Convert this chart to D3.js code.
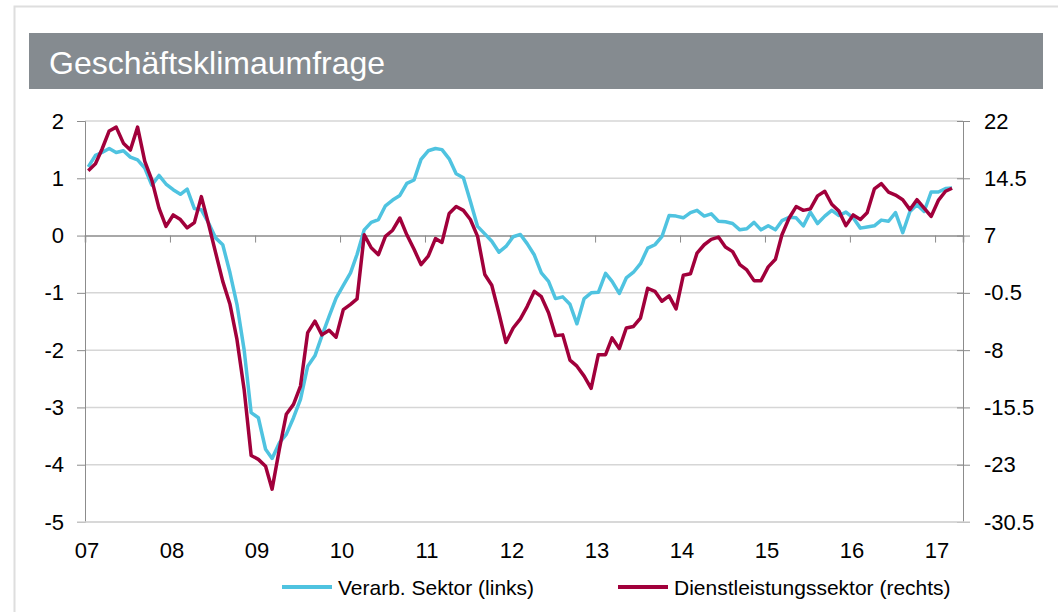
<!DOCTYPE html>
<html>
<head>
<meta charset="utf-8">
<script src="https://cdn.jsdelivr.net/npm/d3@7"></script>
<style>
  body { margin: 0; background: #fff; }
  svg text { font-family: "Liberation Sans", Arial, sans-serif; }
</style>
</head>
<body>
<svg id="chart" width="1058" height="612"></svg>
<script>
// monthly values, Jan 2007 .. Mar 2017
let verarb = [
  1.2, 1.4, 1.45, 1.52, 1.45, 1.48, 1.37, 1.32, 1.18, 0.88, 1.05, 0.9,
  0.8, 0.72, 0.81, 0.47, 0.45, 0.22, -0.04, -0.16, -0.65, -1.2, -2.0, -3.09,
  -3.18, -3.73, -3.89, -3.62, -3.47, -3.18, -2.86, -2.28, -2.1, -1.75, -1.41, -1.09,
  -0.87, -0.65, -0.33, 0.1, 0.23, 0.28, 0.52, 0.62, 0.7, 0.91, 0.97, 1.33,
  1.48, 1.52, 1.5, 1.34, 1.08, 1.01, 0.6, 0.16, 0.03, -0.1, -0.29, -0.19,
  -0.02, 0.02, -0.14, -0.34, -0.65, -0.8, -1.1, -1.07, -1.2, -1.54, -1.1, -1.0,
  -0.99, -0.66, -0.8, -1.01, -0.74, -0.64, -0.49, -0.22, -0.16, -0.02, 0.35, 0.34,
  0.31, 0.4, 0.44, 0.34, 0.38, 0.25, 0.24, 0.21, 0.1, 0.12, 0.23, 0.1,
  0.17, 0.1, 0.26, 0.32, 0.31, 0.17, 0.41, 0.21, 0.34, 0.44, 0.35, 0.41,
  0.31, 0.13, 0.15, 0.17, 0.27, 0.25, 0.4, 0.05, 0.42, 0.54, 0.42, 0.76,
  0.76, 0.82, 0.83
];
let dienst = [
  15.5, 16.4, 18.3, 20.7, 21.2, 19.1, 18.2, 21.2, 16.7, 14.3, 10.6, 8.2,
  9.7, 9.1, 8.0, 8.7, 12.1, 8.5, 4.8, 1.0, -2.0, -6.6, -13.2, -21.8,
  -22.3, -23.2, -26.2, -21.0, -16.4, -15.1, -12.7, -5.7, -4.2, -6.0, -5.4, -6.3,
  -2.7, -2.0, -1.3, 7.1, 5.4, 4.5, 6.9, 7.7, 9.3, 7.1, 5.2, 3.2,
  4.3, 6.6, 6.1, 9.9, 10.8, 10.3, 9.1, 6.9, 1.9, 0.5, -3.2, -7.0,
  -5.1, -3.9, -2.3, -0.3, -1.0, -3.1, -6.1, -6.0, -9.3, -10.1, -11.4, -13.0,
  -8.6, -8.6, -6.4, -7.8, -5.1, -4.9, -3.8, 0.1, -0.3, -1.6, -0.9, -2.6,
  1.8, 2.0, 4.7, 5.8, 6.5, 6.8, 5.5, 4.9, 3.2, 2.5, 1.1, 1.1,
  2.9, 3.9, 7.1, 9.3, 10.8, 10.3, 10.5, 12.2, 12.8, 11.1, 10.2, 8.3,
  9.7, 9.1, 10.0, 13.1, 13.8, 12.7, 12.3, 11.7, 10.4, 11.7, 10.6, 9.5,
  11.6, 12.8, 13.2
];
let yearLabels = ['07', '08', '09', '10', '11', '12', '13', '14', '15', '16', '17'];
let leftTicks = [2, 1, 0, -1, -2, -3, -4, -5];
let rightTicks = [22, 14.5, 7, -0.5, -8, -15.5, -23, -30.5];

let svg = d3.select('#chart');

let plotLeft = 85, plotRight = 963, plotTop = 121, plotBottom = 522;

let x = d3.scaleTime()
  .domain([new Date(2007, 0, 1), new Date(2017, 4, 1)])
  .range([plotLeft, plotRight]);
let yL = d3.scaleLinear().domain([-5, 2]).range([plotBottom, plotTop]);
let yR = d3.scaleLinear().domain([-30.5, 22]).range([plotBottom, plotTop]);

let dateOf = (i) => new Date(2007, i, 15);

// frame + title
svg.append('rect')
  .attr('x', 14.5).attr('y', 6.5)
  .attr('width', 1200).attr('height', 800)
  .attr('fill', 'none').attr('stroke', '#dedede').attr('stroke-width', 2);

svg.append('rect')
  .attr('x', 29).attr('y', 33)
  .attr('width', 1014).attr('height', 56)
  .attr('fill', '#858b90');

svg.append('text')
  .attr('x', 49).attr('y', 74)
  .attr('fill', '#fff')
  .attr('font-size', 32)
  .text('Geschäftsklimaumfrage');

// grid
svg.append('g')
  .selectAll('line')
  .data(leftTicks.filter(d => d !== 0))
  .enter()
  .append('line')
  .attr('x1', plotLeft).attr('x2', plotRight)
  .attr('y1', d => yL(d)).attr('y2', d => yL(d))
  .attr('stroke', '#d6d6d6').attr('stroke-width', 1.5);

// left axis
let axisL = svg.append('g').attr('transform', `translate(${plotLeft},0)`)
  .call(d3.axisLeft(yL).tickValues(leftTicks).tickSize(8).tickFormat(d => d));
axisL.select('.domain').attr('stroke', '#8c8c8c');
axisL.selectAll('.tick line').attr('stroke', '#8c8c8c');
axisL.selectAll('.tick text')
  .attr('x', -21)
  .attr('font-size', 22)
  .attr('fill', '#000')
  .style('font-family', '"Liberation Sans", Arial, sans-serif');

// right axis
let axisR = svg.append('g').attr('transform', `translate(${plotRight},0)`)
  .call(d3.axisRight(yR).tickValues(rightTicks).tickSize(7).tickFormat(d => d));
axisR.select('.domain').attr('stroke', '#8c8c8c');
axisR.selectAll('.tick line').attr('stroke', '#8c8c8c').attr('x1', -6);
axisR.selectAll('.tick text')
  .attr('x', 21)
  .attr('font-size', 22)
  .attr('fill', '#000')
  .style('font-family', '"Liberation Sans", Arial, sans-serif');

// zero line with year ticks
let years = d3.range(2007, 2018).map(y => new Date(y, 0, 1));
let axisX = svg.append('g').attr('transform', `translate(0,${yL(0)})`)
  .call(d3.axisBottom(x).tickValues(years).tickSize(7).tickFormat(''));
axisX.select('.domain').attr('stroke', '#8c8c8c').attr('stroke-width', 1.5);
axisX.selectAll('.tick line').attr('stroke', '#8c8c8c');

svg.append('g')
  .selectAll('text')
  .data(years)
  .enter()
  .append('text')
  .attr('x', d => x(d) + 2)
  .attr('y', 558)
  .attr('text-anchor', 'middle')
  .attr('font-size', 22)
  .text((d, i) => yearLabels[i]);

// bottom line
svg.append('line')
  .attr('x1', plotLeft - 8).attr('x2', plotRight + 7)
  .attr('y1', plotBottom).attr('y2', plotBottom)
  .attr('stroke', '#d6d6d6').attr('stroke-width', 1.5);

// series
let lineL = d3.line().x((d, i) => x(dateOf(i))).y(d => yL(d));
let lineR = d3.line().x((d, i) => x(dateOf(i))).y(d => yR(d));

svg.append('path')
  .attr('d', lineL(verarb))
  .attr('fill', 'none').attr('stroke', '#4fc3e0')
  .attr('stroke-width', 3.5).attr('stroke-linejoin', 'round');

svg.append('path')
  .attr('d', lineR(dienst))
  .attr('fill', 'none').attr('stroke', '#a1003b')
  .attr('stroke-width', 3.5).attr('stroke-linejoin', 'round');

// legend
let legend = [
  { name: 'Verarb. Sektor (links)', color: '#4fc3e0', x: 282 },
  { name: 'Dienstleistungssektor (rechts)', color: '#a1003b', x: 618 }
];
let lg = svg.append('g').selectAll('g').data(legend).enter().append('g')
  .attr('transform', d => `translate(${d.x},587)`);
lg.append('line')
  .attr('x1', 0).attr('x2', 50)
  .attr('stroke', d => d.color).attr('stroke-width', 4);
lg.append('text')
  .attr('x', 56).attr('y', 8)
  .attr('font-size', 21)
  .text(d => d.name);
</script>
</body>
</html>
